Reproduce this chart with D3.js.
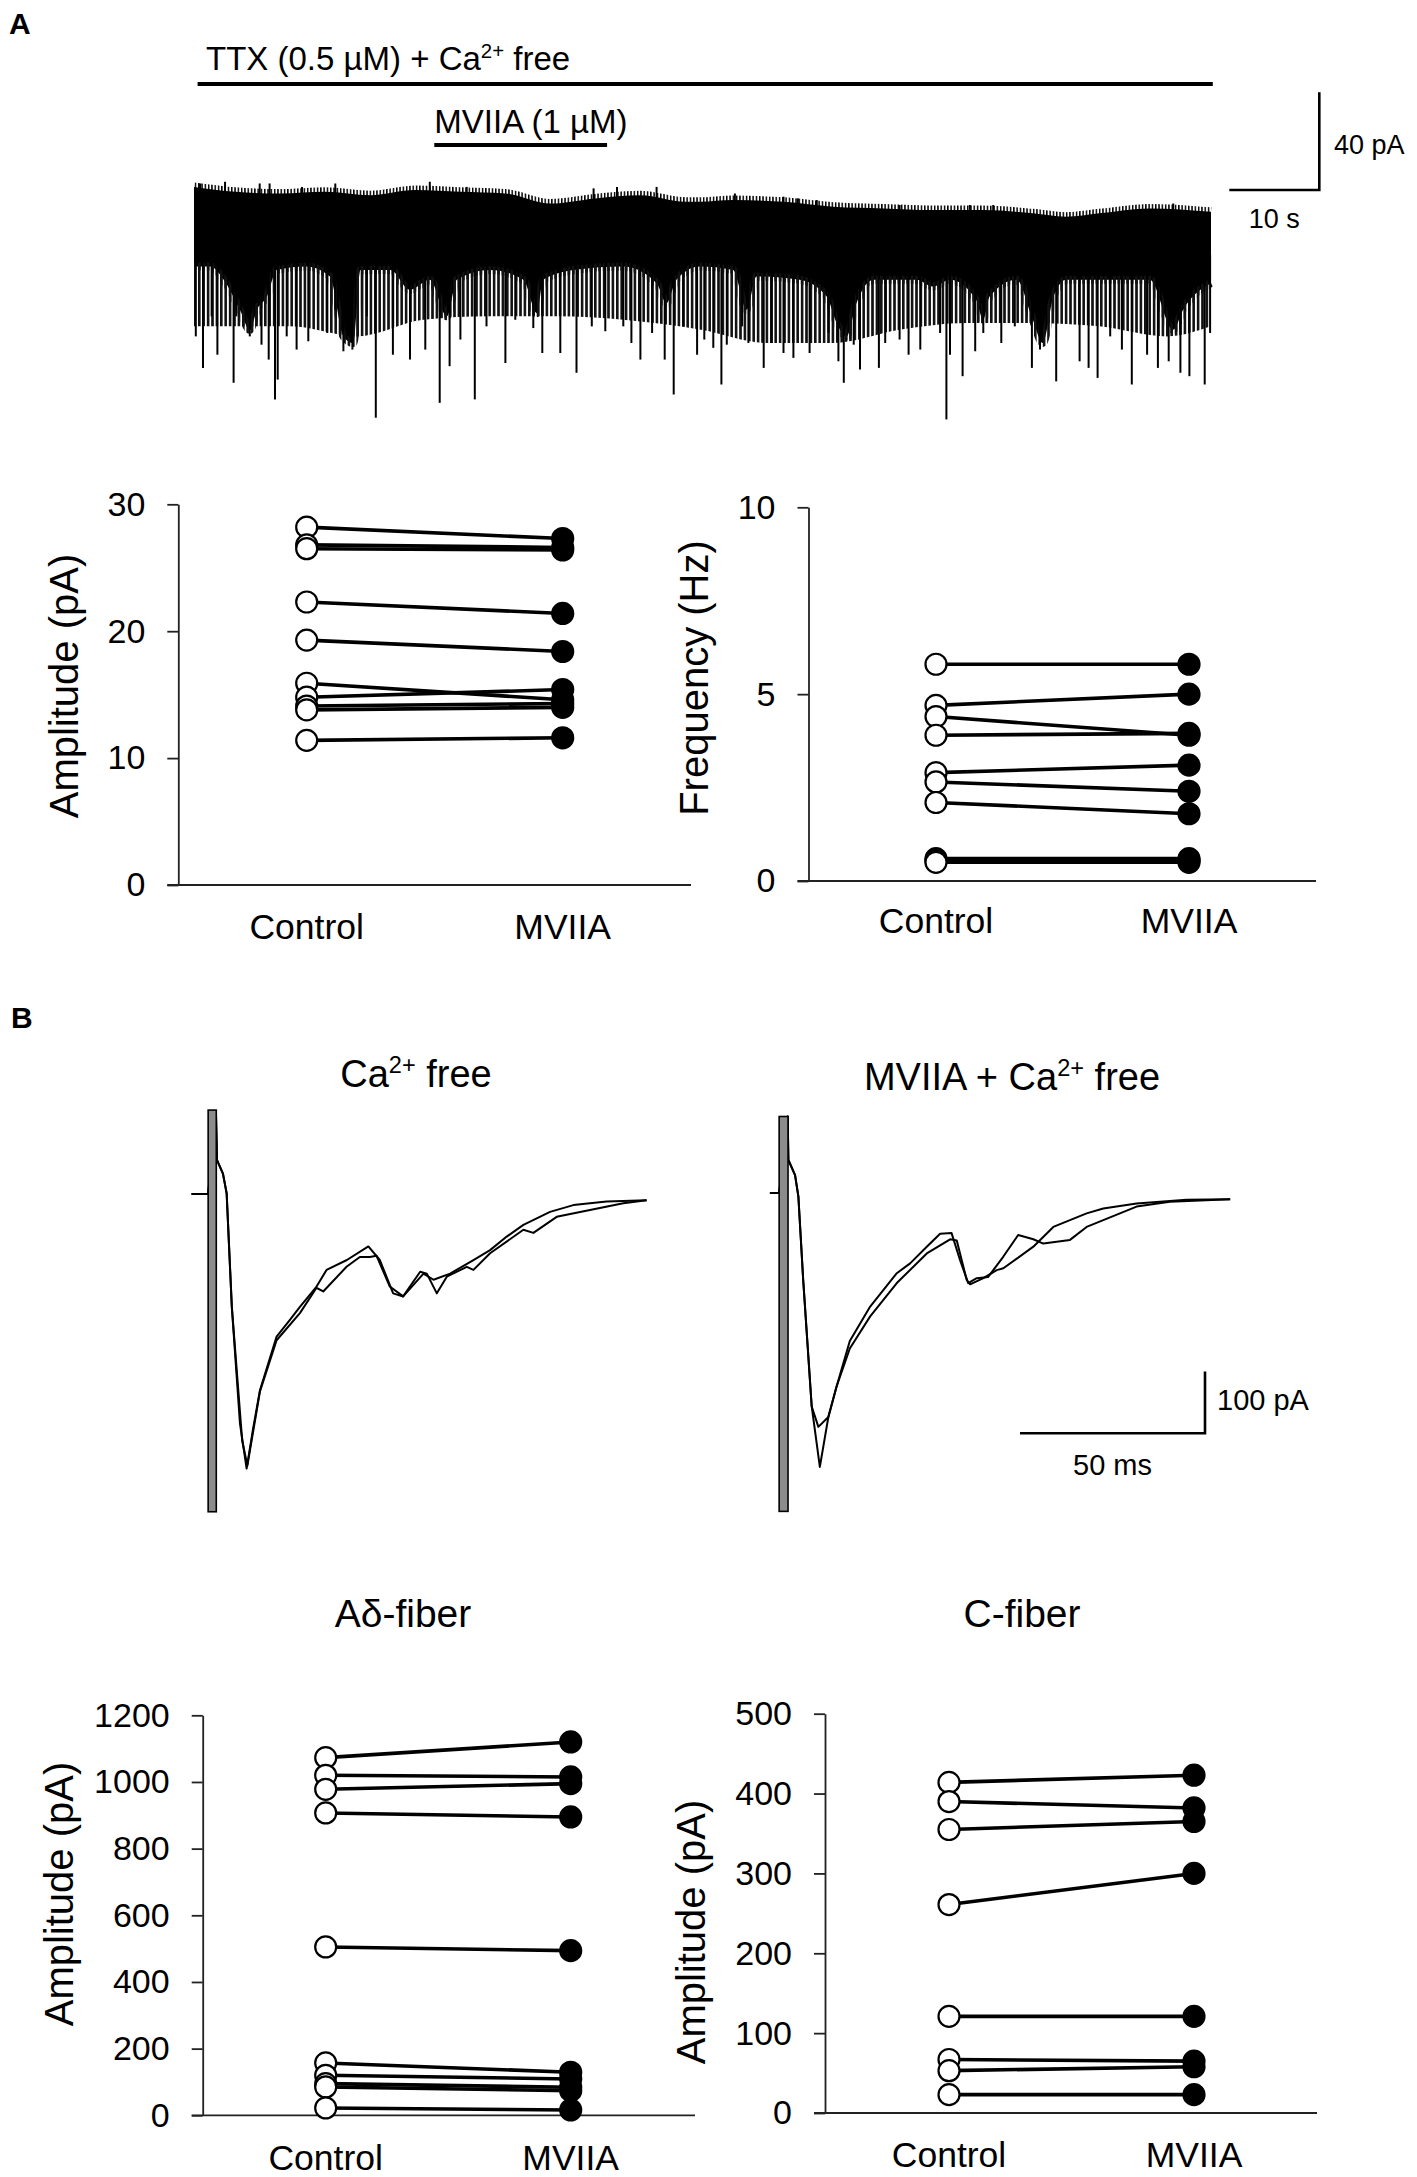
<!DOCTYPE html>
<html>
<head>
<meta charset="utf-8">
<script src="https://cdn.jsdelivr.net/npm/d3@7"></script>
<style>
  body { margin: 0; background: #fff; }
</style>
</head>
<body>
<div id="figure"></div>
<script>
const FONT = '"Liberation Sans", Arial, Helvetica, sans-serif';

// ---------- Panel A: continuous recording (time in s, current in pA) ----------
// upper edge of the dense noise band
const traceTop = [[0,15.6],[4.6,13.6],[9.6,12.9],[14.6,13.6],[19.6,12.2],[24.6,14.3],[29.6,13.6],
  [34.6,12.9],[39.6,8.8],[44.6,10.9],[49.6,12.2],[54.6,9.5],[56.2,9.5],[59.9,10.2],[65.5,9.5],
  [71.0,7.5],[76.6,6.8],[82.1,6.1],[87.7,6.1],[93.2,4.8],[96.9,3.4],[100.6,4.8],[106.2,6.8],[113,5.4]];
// lower edge of the solid band
const traceBand = [[0,-17],[1.8,-17],[3.3,-22.4],[5.1,-34.7],[6.2,-42.9],[7.0,-34.7],[8.1,-29.3],
  [9.2,-18.4],[12.5,-17],[15.1,-21.1],[16.6,-45.6],[17.7,-48.3],[18.5,-18.4],[21.8,-18.4],[24.0,-26.5],
  [26.2,-22.4],[28.1,-37.4],[29.2,-22.4],[32.9,-18.4],[36.6,-22.4],[38.1,-36.1],[38.8,-22.4],[42.2,-18.4],
  [47.7,-17],[51.4,-23.8],[52.5,-32],[53.6,-22.4],[56.2,-17],[59.9,-18.4],[61.4,-34.7],[62.5,-21.1],
  [67.3,-22.4],[70.3,-29.3],[71.4,-40.1],[72.5,-45.6],[73.6,-32],[75.5,-22.4],[80.3,-22.4],[82.1,-25.2],
  [84.0,-22.4],[86.9,-30.6],[87.7,-38.8],[88.4,-29.3],[91.4,-22.4],[93.2,-38.8],[94.3,-48.3],[95.5,-29.3],
  [96.9,-22.4],[100.6,-22.4],[106.2,-22.4],[108.8,-42.9],[109.9,-34.7],[113,-23.8]];
// reach of the crowded small events under the band
const traceMid = [[0,-41.5],[10.7,-41.5],[18.1,-45.6],[25.5,-38.8],[32.9,-37.4],[40.3,-37.4],[47.7,-38.8],
  [56.5,-43],[63.6,-48.3],[71.0,-48.3],[78.4,-42.9],[85.8,-40.1],[93.2,-40.1],[100.6,-41.5],[108.1,-45.6],[113,-41.5]];
// upward peaks on top of the band
const upSpikes = [[0.67,17.0],[3.45,17.7],[7.3,17.0],[8.4,17.0],[12.0,15.6],[15.7,17.0],[26.2,17.7],
  [30.3,15.6],[44.4,15.0],[47.0,15.6],[51.4,15.6],[60.1,12.9],[65.5,11.6],[67.1,10.9],[69.2,10.2],
  [78.4,8.2],[86.2,8.2],[88.8,8.2],[108.8,8.8]];
// large inward events [time, peak]
const events = [[0.2,-45.6],[1.0,-58.5],[1.96,-37.4],[2.6,-53.1],[4.4,-64.6],[4.7,-37.4],[6.2,-45.6],
  [7.5,-49],[8.3,-55.1],[9.0,-71.4],[9.3,-63.3],[10.3,-45.6],[11.4,-51],[12.7,-47.6],[14.8,-44.2],
  [15.7,-34.7],[16.6,-51.7],[17.6,-51],[19.2,-37.4],[20.2,-78.9],[22.1,-53.1],[24.0,-55.1],[25.7,-51],
  [27.3,-72.8],[28.4,-57.8],[29.6,-46.9],[31.2,-71.4],[32.5,-41.5],[34.6,-56.5],[35.7,-38.8],[37.7,-42.2],
  [38.7,-52.4],[40.7,-52.4],[42.5,-60.5],[44.2,-41.5],[45.7,-43.5],[47.7,-41.5],[48.6,-48.3],[49.6,-55.1],
  [50.9,-44.2],[52.3,-55.1],[53.3,-69.4],[54.4,-41.5],[55.9,-53.1],
  [56.7,-46.9],[57.7,-50.3],[58.6,-65.3],[59.2,-49],[60.9,-41.5],[61.6,-48.3],[63.3,-58.5],[64.2,-48.3],
  [65.5,-52.4],[66.6,-54.4],[68.4,-52.4],[70.5,-44.2],[71.6,-55.8],[72.2,-64.6],[73.3,-49],[74.0,-59.2],
  [76.1,-58.5],[76.8,-48.3],[78.4,-46.9],[79.4,-53.1],[80.7,-51],[82.9,-44.2],[83.6,-79.6],[84.0,-53.1],
  [85.4,-61.9],[86.8,-51.7],[87.7,-44.2],[89.7,-48.3],[91.2,-41.5],[93.1,-58.5],[94.0,-51],[95.8,-64],
  [98.4,-55.8],[99.4,-58.5],[100.4,-62.6],[101.8,-45.6],[103.1,-51],[104.2,-65.3],[105.9,-53.1],
  [107.1,-58.5],[108.3,-55.8],[109.6,-60.5],[110.6,-61.9],[112.3,-65.3],[112.9,-44.2]];
// drug application periods (s)
const ttxBar = [0.4, 113.2];
const mviiaBar = [26.7, 45.9];

// ---------- paired plots ----------
const categories = ["Control", "MVIIA"];
const ampTicks = [0, 10, 20, 30];
const ampCtrl  = [28.2, 26.8, 26.5, 22.3, 19.3, 15.9, 14.8, 14.1, 13.8, 11.4];
const ampMviia = [27.3, 26.6, 26.4, 21.4, 18.4, 14.6, 15.4, 14.3, 14.0, 11.6];
const freqTicks = [0, 5, 10];
const freqCtrl  = [5.8, 4.7, 4.4, 3.9, 2.9, 2.65, 2.1, 0.6, 0.55, 0.5];
const freqMviia = [5.8, 5.0, 3.9, 3.95, 3.1, 2.4, 1.8, 0.6, 0.55, 0.5];
const adTicks = [0, 200, 400, 600, 800, 1000, 1200];
const adCtrl  = [1073, 1020, 978, 907, 505, 157, 120, 95, 85, 22];
const adMviia = [1120, 1015, 995, 895, 494, 129, 109, 84, 74, 16];
const cTicks = [0, 100, 200, 300, 400, 500];
const cCtrl  = [414, 390, 355, 261, 121, 67, 53, 23];
const cMviia = [423, 382, 365, 300, 121, 65, 58, 23];

// ---------- Panel B: evoked currents (time in ms, current in pA) ----------
const caFreeA = [[-5,0],[-0.5,0],[1.6,133],[1.9,55],[3.5,33],[4.5,1],[5.9,-183],[8.1,-372],[9.9,-445],
  [11.6,-382],[13.5,-318],[18.0,-231],[21.6,-204],[24.3,-183],[28.8,-150],[31.5,-123],[37.0,-107],
  [42.8,-85],[45.9,-107],[49.5,-161],[52.2,-166],[57.7,-129],[60.4,-139],[64.9,-129],[71.2,-107],
  [75.7,-91],[80.2,-69],[84.7,-50],[91.9,-29],[98.2,-18],[107.2,-12],[118,-10]];
const caFreeB = [[-5,0],[-0.5,0],[1.6,133],[1.9,55],[3.5,33],[4.5,1],[5.9,-183],[8.7,-400],[10.1,-440],
  [11.8,-380],[13.5,-320],[18.0,-237],[24.3,-193],[28.8,-152],[30.6,-158],[36.9,-118],[40.5,-102],
  [43.2,-102],[45.0,-100],[48.6,-150],[52.2,-166],[56.8,-126],[58.6,-129],[61.3,-161],[64.0,-134],
  [69.4,-118],[71.2,-123],[75.7,-96],[84.7,-58],[87.4,-63],[93.7,-37],[102.7,-26],[111.7,-15],[118,-10]];
const mviiaFreeA = [[-3,0],[-0.5,0],[1.8,124],[2.0,53.5],[3.8,29],[4.7,-6],[6.0,-141],[8.3,-346],
  [10.5,-444],[12.8,-363],[15.0,-314],[18.6,-240],[24.1,-184],[31.3,-130],[34.9,-114],[39.4,-87],
  [43.0,-66],[46.1,-65],[48.4,-109],[50.6,-146],[52.9,-138],[56.0,-136],[60.1,-103],[64.1,-68],
  [68.2,-75],[70.9,-82],[78.1,-76],[82.6,-55],[87.1,-44],[96.1,-22],[105.1,-14],[121.4,-10]];
const mviiaFreeB = [[-3,0],[-0.5,0],[1.8,124],[2.0,53.5],[3.8,29],[4.7,-6],[6.0,-141],[8.3,-346],
  [10.1,-379],[12.8,-363],[15.0,-314],[18.6,-252],[24.1,-200],[31.3,-146],[39.4,-98],[45.7,-75],
  [47.5,-77],[50.2,-141],[51.1,-148],[54.7,-138],[58.3,-125],[60.1,-122],[68.2,-87],[73.6,-55],
  [82.6,-33],[87.1,-25],[96.1,-17],[109.6,-11],[121.4,-10]];
// stimulus artifact [start ms, end ms, top pA, bottom pA]
const caArtifact = [-0.5, 1.7, 136, -515];
const mviiaArtifact = [-0.5, 1.9, 124, -516];

const W = 1417, H = 2177;
const svg = d3.select("#figure").append("svg")
  .attr("width", W).attr("height", H)
  .attr("font-family", FONT);

function addText(x, y, str, size, anchor, weight) {
  return svg.append("text").attr("x", x).attr("y", y)
    .attr("font-size", size).attr("text-anchor", anchor || "start")
    .attr("font-weight", weight || "normal").attr("fill", "#000").text(str);
}

// text with a Ca2+ superscript
function caText(x, y, before, after, size, anchor) {
  const t = svg.append("text").attr("x", x).attr("y", y)
    .attr("font-size", size).attr("text-anchor", anchor || "start").attr("fill", "#000");
  const up = size * 0.36;
  t.append("tspan").text(before + "Ca");
  t.append("tspan").attr("font-size", size * 0.62).attr("dy", -up).text("2+");
  t.append("tspan").attr("dy", up).text(after);
  return t;
}

// ---------- Panel A trace ----------
addText(9, 34, "A", 30, "start", "bold");

const xT = d3.scaleLinear().domain([0, 113]).range([194, 1211]);
const yT = d3.scaleLinear().domain([0, 40]).range([225, 127.3]);

const defs = svg.append("defs");
defs.append("pattern").attr("id", "crowd")
  .attr("width", 4.4).attr("height", 8).attr("patternUnits", "userSpaceOnUse")
  .append("rect").attr("width", 2.6).attr("height", 8).attr("fill", "#111");
defs.append("pattern").attr("id", "fringe")
  .attr("width", 3.3).attr("height", 8).attr("patternUnits", "userSpaceOnUse")
  .append("rect").attr("width", 1.5).attr("height", 8).attr("fill", "#000");

const smooth = d3.curveMonotoneX;
// crowded small events
svg.append("path")
  .attr("d", d3.area().curve(smooth).x(d => xT(d[0])).y0(yT(-10)).y1(d => yT(d[1]))(traceMid))
  .attr("fill", "url(#crowd)");
// solid band: top half and bottom half (overlapping so no seam shows)
svg.append("path")
  .attr("d", d3.area().curve(smooth).x(d => xT(d[0])).y0(yT(-14)).y1(d => yT(d[1]))(traceTop))
  .attr("fill", "#000");
svg.append("path")
  .attr("d", d3.area().curve(smooth).x(d => xT(d[0])).y0(yT(-8)).y1(d => yT(d[1]))(traceBand))
  .attr("fill", "#000");
// ragged edges
const edge = d3.line().curve(smooth).x(d => xT(d[0])).y(d => yT(d[1]));
svg.append("path").attr("d", edge(traceTop)).attr("fill", "none")
  .attr("stroke", "url(#fringe)").attr("stroke-width", 9);
svg.append("path").attr("d", edge(traceBand)).attr("fill", "none")
  .attr("stroke", "url(#crowd)").attr("stroke-width", 8);

svg.append("g").selectAll("line").data(upSpikes).join("line")
  .attr("x1", d => xT(d[0])).attr("x2", d => xT(d[0]))
  .attr("y1", yT(0)).attr("y2", d => yT(d[1]))
  .attr("stroke", "#000").attr("stroke-width", 2);

svg.append("g").selectAll("line").data(events).join("line")
  .attr("x1", d => xT(d[0])).attr("x2", d => xT(d[0]))
  .attr("y1", yT(-12)).attr("y2", d => yT(d[1]))
  .attr("stroke", "#000").attr("stroke-width", 2);

// drug bars
svg.append("line").attr("x1", xT(ttxBar[0])).attr("x2", xT(ttxBar[1]))
  .attr("y1", 84).attr("y2", 84).attr("stroke", "#000").attr("stroke-width", 4.2);
svg.append("line").attr("x1", xT(mviiaBar[0])).attr("x2", xT(mviiaBar[1]))
  .attr("y1", 145).attr("y2", 145).attr("stroke", "#000").attr("stroke-width", 4.2);
caText(206, 70, "TTX (0.5 \u00b5M) + ", " free", 33);
addText(xT(mviiaBar[0]), 133, "MVIIA (1 \u00b5M)", 33);

// scale bars for panel A
const sbX = 1229.3, sbY = 190;
const sbRight = sbX + xT(10) - xT(0);
svg.append("path")
  .attr("d", `M${sbX},${sbY}H${sbRight}V${sbY - (yT(0) - yT(40))}`)
  .attr("fill", "none").attr("stroke", "#000").attr("stroke-width", 2.6);
addText(1334, 154, "40 pA", 27);
addText((sbX + sbRight) / 2, 228, "10 s", 27, "middle");

// ---------- paired plots ----------
function pairedPlot(cfg) {
  const g = svg.append("g");
  const y = d3.scaleLinear().domain([0, cfg.max]).range([cfg.y0, cfg.yTop]);
  const x = d3.scalePoint().domain(categories).range([cfg.xCtrl, cfg.xMviia]);

  const ax = g.append("g").attr("transform", `translate(${cfg.axisX},0)`)
    .call(d3.axisLeft(y).tickValues(cfg.ticks).tickFormat(d3.format("d"))
      .tickSize(11).tickSizeOuter(0).tickPadding(22));
  ax.attr("font-size", 34).attr("font-family", FONT);
  ax.select(".domain").attr("stroke", "#222").attr("stroke-width", 1.8);
  ax.selectAll(".tick line").attr("stroke", "#222").attr("stroke-width", 1.8);
  ax.selectAll(".tick text").attr("fill", "#000");

  g.append("line").attr("x1", cfg.axisX - 11).attr("x2", cfg.xEnd)
    .attr("y1", y(0)).attr("y2", y(0)).attr("stroke", "#222").attr("stroke-width", 1.8);

  const pairs = cfg.ctrl.map((c, i) => [c, cfg.mviia[i]]);
  g.append("g").selectAll("line").data(pairs).join("line")
    .attr("x1", x("Control")).attr("x2", x("MVIIA"))
    .attr("y1", d => y(d[0])).attr("y2", d => y(d[1]))
    .attr("stroke", "#000").attr("stroke-width", 3.6);
  g.append("g").selectAll("circle").data(cfg.ctrl).join("circle")
    .attr("cx", x("Control")).attr("cy", d => y(d)).attr("r", 10.5)
    .attr("fill", "#fff").attr("stroke", "#000").attr("stroke-width", 2.2);
  g.append("g").selectAll("circle").data(cfg.mviia).join("circle")
    .attr("cx", x("MVIIA")).attr("cy", d => y(d)).attr("r", 10.5)
    .attr("fill", "#000").attr("stroke", "#000").attr("stroke-width", 2.2);

  g.selectAll(".cat").data(categories).join("text").attr("class", "cat")
    .attr("x", d => x(d)).attr("y", cfg.labelY)
    .attr("text-anchor", "middle").attr("font-size", 35.5).attr("fill", "#000")
    .text(d => d);

  g.append("text")
    .attr("transform", `translate(${cfg.titleX},${cfg.titleY}) rotate(-90)`)
    .attr("text-anchor", "middle").attr("font-size", 40).attr("fill", "#000")
    .text(cfg.yLabel);
}

pairedPlot({ max: 30, ticks: ampTicks, ctrl: ampCtrl, mviia: ampMviia, yLabel: "Amplitude (pA)",
  axisX: 178.3, y0: 885, yTop: 504.3, xCtrl: 306.7, xMviia: 562.7, xEnd: 691,
  labelY: 939, titleX: 78, titleY: 686 });
pairedPlot({ max: 10, ticks: freqTicks, ctrl: freqCtrl, mviia: freqMviia, yLabel: "Frequency (Hz)",
  axisX: 808.5, y0: 881, yTop: 507.3, xCtrl: 936, xMviia: 1189, xEnd: 1316,
  labelY: 933, titleX: 708, titleY: 678 });
pairedPlot({ max: 1200, ticks: adTicks, ctrl: adCtrl, mviia: adMviia, yLabel: "Amplitude (pA)",
  axisX: 202.7, y0: 2115.3, yTop: 1715.3, xCtrl: 325.7, xMviia: 570.7, xEnd: 695,
  labelY: 2170, titleX: 73, titleY: 1894 });
pairedPlot({ max: 500, ticks: cTicks, ctrl: cCtrl, mviia: cMviia, yLabel: "Amplitude (pA)",
  axisX: 825, y0: 2113, yTop: 1713.7, xCtrl: 949, xMviia: 1194, xEnd: 1317,
  labelY: 2167, titleX: 705, titleY: 1932 });

addText(403, 1627, "A\u03b4-fiber", 39, "middle");
addText(1022, 1627, "C-fiber", 39, "middle");

// ---------- Panel B ----------
addText(11, 1028, "B", 30, "start", "bold");
caText(416, 1087, "", " free", 38, "middle");
caText(1012, 1090, "MVIIA + ", " free", 38, "middle");

function evoked(x0, y0, sweeps, artifact) {
  const x = d3.scaleLinear().domain([0, 50]).range([x0, x0 + 185]);
  const y = d3.scaleLinear().domain([0, -100]).range([y0, y0 + 61.7]);
  const line = d3.line().x(d => x(d[0])).y(d => y(d[1]));
  svg.append("g").selectAll("path").data(sweeps).join("path")
    .attr("d", line).attr("fill", "none")
    .attr("stroke", "#000").attr("stroke-width", 2).attr("stroke-linejoin", "round");
  svg.append("rect")
    .attr("x", x(artifact[0])).attr("width", x(artifact[1]) - x(artifact[0]))
    .attr("y", y(artifact[2])).attr("height", y(artifact[3]) - y(artifact[2]))
    .attr("fill", "#8c8c8c").attr("stroke", "#000").attr("stroke-width", 1.6);
  return { x, y };
}

const left = evoked(210, 1194, [caFreeA, caFreeB], caArtifact);
evoked(781, 1193, [mviiaFreeA, mviiaFreeB], mviiaArtifact);

// 50 ms / 100 pA scale bar
const bx = 1205, by = 1433.3;
const bLen = left.x(50) - left.x(0);
const bH = left.y(-100) - left.y(0);
svg.append("path").attr("d", `M${bx - bLen},${by}H${bx}V${by - bH}`)
  .attr("fill", "none").attr("stroke", "#000").attr("stroke-width", 2.6);
addText(1217, 1410, "100 pA", 29);
addText(bx - bLen / 2, 1475, "50 ms", 29, "middle");
</script>
</body>
</html>
